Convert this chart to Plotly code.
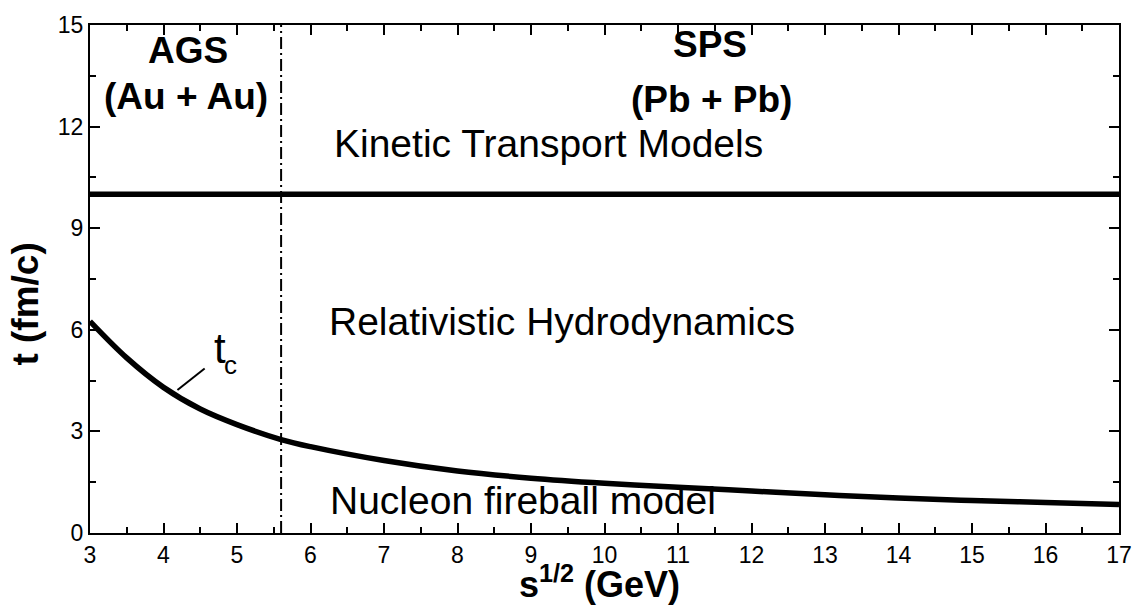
import plotly.graph_objects as go

# ---- data ----
sqrt_s = [3.0, 3.5, 4.0, 4.5, 5.0, 5.6, 6.0, 7.0, 8.0, 9.0, 10.0, 11.0, 12.0, 13.0, 14.0, 15.0, 16.0, 17.0]
t_c = [6.25, 5.17, 4.30, 3.66, 3.20, 2.76, 2.55, 2.14, 1.83, 1.62, 1.47, 1.35, 1.24, 1.13, 1.03, 0.96, 0.90, 0.84]

kinetic_x = [3.0, 17.0]
kinetic_y = [10.0, 10.0]

boundary_x = [5.6, 5.6]
boundary_y = [0.0, 15.0]

pointer_x = [4.19, 4.56]
pointer_y = [4.22, 4.86]

x_ticks = list(range(3, 18))
y_ticks = [0, 3, 6, 9, 12, 15]

FONT = "Liberation Sans, Arial, sans-serif"

fig = go.Figure()
fig.add_trace(go.Scatter(x=kinetic_x, y=kinetic_y, mode="lines",
                         line=dict(color="black", width=5.5), showlegend=False))
fig.add_trace(go.Scatter(x=boundary_x, y=boundary_y, mode="lines",
                         line=dict(color="black", width=2, dash="12px,4px,2px,4px"), showlegend=False))
fig.add_trace(go.Scatter(x=sqrt_s, y=t_c, mode="lines", line_shape="spline",
                         line=dict(color="black", width=5.5), showlegend=False))
fig.add_trace(go.Scatter(x=pointer_x, y=pointer_y, mode="lines",
                         line=dict(color="black", width=2), showlegend=False))

axis_common = dict(showline=True, linecolor="black", linewidth=2, mirror="ticks",
                   ticks="inside", ticklen=10, tickwidth=2, tickcolor="black",
                   showgrid=False, zeroline=False,
                   tickfont=dict(family=FONT, size=23, color="black"))

fig.update_xaxes(range=[3, 17], tickvals=x_ticks, ticktext=[str(v) for v in x_ticks],
                 minor=dict(dtick=0.5, ticks="inside", ticklen=6, tickwidth=2, tickcolor="black", showgrid=False),
                 **axis_common)
fig.update_yaxes(range=[0, 15], tickvals=y_ticks, ticktext=[str(v) for v in y_ticks],
                 minor=dict(dtick=1.5, ticks="inside", ticklen=6, tickwidth=2, tickcolor="black", showgrid=False),
                 **axis_common)

def ann(text, x, y, size, bold=False, **kw):
    fig.add_annotation(text=f"<b>{text}</b>" if bold else text, x=x, y=y, xref="x", yref="y",
                       showarrow=False, xanchor="center", yanchor="middle",
                       font=dict(family=FONT, size=size, color="black"), **kw)

ann("AGS", 4.33, 14.26, 37, bold=True)
ann("(Au + Au)", 4.30, 12.88, 37, bold=True)
ann("SPS", 11.44, 14.43, 37, bold=True)
ann("(Pb + Pb)", 11.46, 12.79, 37, bold=True)
ann("Kinetic Transport Models", 9.24, 11.51, 39)
ann("Relativistic Hydrodynamics", 9.42, 6.25, 39)
ann("Nucleon fireball model", 8.89, 0.96, 39)
ann("t", 4.77, 5.45, 42)
ann("c", 4.91, 4.97, 26)

fig.add_annotation(text="<b>t (fm/c)</b>", x=-0.063, y=0.45, xref="paper", yref="paper",
                   textangle=-90, showarrow=False, xanchor="center", yanchor="middle",
                   font=dict(family=FONT, size=37, color="black"))
fig.add_annotation(text="<b>s<sup>1/2</sup> (GeV)</b>", x=0.495, y=-0.097, xref="paper", yref="paper",
                   showarrow=False, xanchor="center", yanchor="middle",
                   font=dict(family=FONT, size=36, color="black"))

fig.update_layout(width=1144, height=612, margin=dict(l=90, r=22, t=17, b=79),
                  plot_bgcolor="white", paper_bgcolor="white", showlegend=False)

fig.write_html("out.html")
